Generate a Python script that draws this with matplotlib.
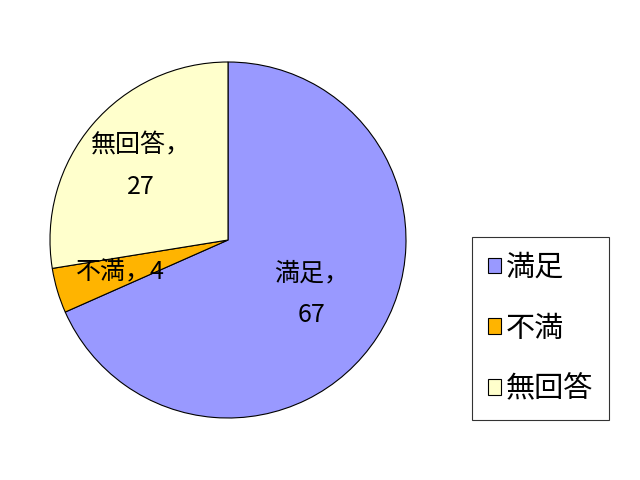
import matplotlib
matplotlib.use("Agg")
import matplotlib.pyplot as plt
import numpy as np

plt.rcParams['font.family'] = ['Noto Sans CJK JP', 'DejaVu Sans']

categories = ['満足', '不満', '無回答']
values = [67, 4, 27]
colors = ['#9999FF', '#FFB400', '#FFFFCC']
label_radius = [0.56, 0.63, 0.64]

fig = plt.figure(figsize=(6.4, 4.8), dpi=100)
ax = fig.add_axes([50/640, (480-240-178)/480, 356/640, 356/480])
wedges, _ = ax.pie(values, colors=colors, startangle=90, counterclock=False,
                   wedgeprops=dict(edgecolor='black', linewidth=0.8))
ax.set_xlim(-1, 1)
ax.set_ylim(-1, 1)
ax.set_aspect('equal')

for w, cat, v, r in zip(wedges, categories, values, label_radius):
    ang = np.deg2rad((w.theta1 + w.theta2) / 2)
    x, y = r * np.cos(ang), r * np.sin(ang)
    if cat == '不満':
        txt = f'{cat}，{v}'
    else:
        txt = f'{cat}，\n{v}'
    ax.text(x, y, txt, ha='center', va='center', fontsize=18, linespacing=1.75)

leg = fig.legend(wedges, categories, loc='upper left',
                 bbox_to_anchor=(472/640, 1 - 237/480), fontsize=21,
                 frameon=True, fancybox=False, handlelength=0.45, handleheight=0.45,
                 handletextpad=0.15, labelspacing=1.05, borderpad=0.55, borderaxespad=0)
leg.get_frame().set_edgecolor('black')
leg.get_frame().set_linewidth(0.8)

fig.savefig('out.png', dpi=100)
